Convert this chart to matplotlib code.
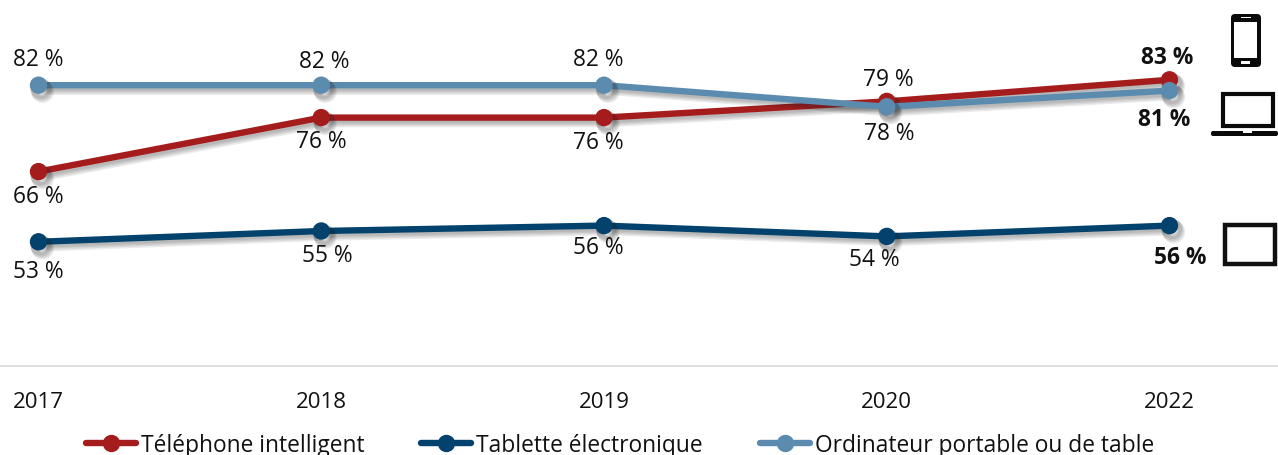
"""
Appareils utilises 2017-2022, courbes avec etiquettes et icones.
"""

import matplotlib
matplotlib.use("Agg")
import matplotlib.pyplot as plt
import matplotlib.patheffects as pe
from matplotlib.patches import FancyBboxPatch, Rectangle

annees = ["2017", "2018", "2019", "2020", "2022"]
telephone = [66, 76, 76, 79, 83]
tablette = [53, 55, 56, 54, 56]
ordinateur = [82, 82, 82, 78, 81]

noms = ["Téléphone intelligent", "Tablette électronique", "Ordinateur portable ou de table"]

ROUGE = "#A51C1C"
MARINE = "#02426D"
BLEU = "#5B8BAE"

plt.rcParams["font.family"] = ["Open Sans", "DejaVu Sans"]

fig = plt.figure(figsize=(12.78, 4.56), dpi=100)
ax = fig.add_axes([0, 89 / 456, 1, 367 / 456])

x = list(range(len(annees)))
# ombre floue : quelques couches transparentes
ombre = [pe.SimpleLineShadow(offset=(o, -1.5 * o), alpha=0.09, shadow_color="#222222", linewidth=w)
         for o, w in [(3.0, 5.0), (2.5, 4.5), (2.0, 4.0), (1.5, 3.5)]] + [pe.Normal()]

lignes = []
for serie, coul, nom in zip([telephone, tablette, ordinateur], [ROUGE, MARINE, BLEU], noms):
    l, = ax.plot(x, serie, color=coul, lw=4.6, marker="o", ms=11.5, label=nom,
                 solid_capstyle="round")
    lignes.append(l)

ax.set_xlim(-38.5 / 282.75, (1278 - 38.5) / 282.75)
ax.set_ylim(30, 30 + 367 / 5.4)
ax.set_yticks([])
ax.set_xticks(x)
ax.set_xticklabels(annees, fontsize=16, color="#111111")
ax.tick_params(axis="x", length=0, pad=18)
for cote in ["top", "left", "right"]:
    ax.spines[cote].set_visible(False)
ax.spines["bottom"].set_color("#D9D9D9")
ax.spines["bottom"].set_linewidth(1.2)


def etiquettes(serie, decalages):
    for i, (v, d) in enumerate(zip(serie, decalages)):
        gras = i == len(serie) - 1
        ax.annotate(f"{v} %", (i, v), xytext=d, textcoords="offset pixels",
                    ha="center", va="center", fontsize=16.4, color="#111111",
                    fontweight="bold" if gras else "normal")


etiquettes(telephone, [(0, -24), (0, -23), (-6, -24), (2, 22), (-2, 23)])
etiquettes(tablette, [(0, -29), (6, -24), (-6, -21), (-12, -23), (11, -31)])
etiquettes(ordinateur, [(0, 26), (3, 24), (-6, 26), (2, -26), (-5, -28)])

fig.legend(loc="center", bbox_to_anchor=(620 / 1278, 1 - 446 / 456), ncol=3, frameon=False,
           fontsize=16.4, handlelength=2.2, handletextpad=0.22, columnspacing=2.5,
           borderpad=0, labelcolor="#111111")

# la legende est faite, on ajoute l'ombre seulement aux courbes
for l in lignes:
    l.set_path_effects(ombre)

# icones, en pixels de l'image
ic = fig.add_axes([0, 0, 1, 1], zorder=5)
ic.set_xlim(0, 1278)
ic.set_ylim(456, 0)
ic.axis("off")

# telephone
ic.add_patch(FancyBboxPatch((1231, 15), 30, 53, boxstyle="round,pad=0,rounding_size=4", fc="#0A0A0A", ec="none"))
ic.add_patch(Rectangle((1234, 23), 23, 36, fc="white", ec="none"))
ic.add_patch(Rectangle((1241, 62), 9, 2.5, fc="white", ec="none"))
ic.add_patch(Rectangle((1241, 17.5), 10, 1.2, fc="white", ec="none"))

# portable
ic.add_patch(Rectangle((1222.5, 95), 50, 31.5, fc="white", ec="#0A0A0A", lw=3))
ic.add_patch(FancyBboxPatch((1211, 132), 67, 5, boxstyle="round,pad=0,rounding_size=2", fc="#0A0A0A", ec="none"))
ic.add_patch(Rectangle((1243, 132), 9, 1.5, fc="white", ec="none"))

# tablette
ic.add_patch(Rectangle((1224.5, 226), 50.5, 39, fc="white", ec="#111111", lw=3.2))

fig.savefig("out.png", dpi=100)
